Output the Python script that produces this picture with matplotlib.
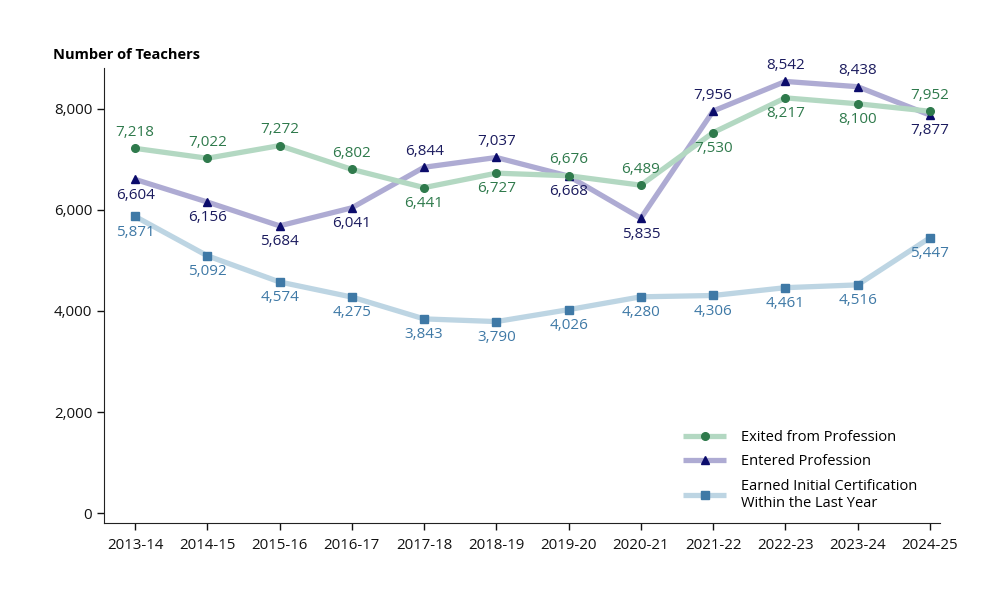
import matplotlib; matplotlib.use('Agg')
import matplotlib.pyplot as plt
from matplotlib.ticker import FuncFormatter

plt.rcParams['font.family'] = ['Open Sans', 'DejaVu Sans']

years = ['2013-14', '2014-15', '2015-16', '2016-17', '2017-18', '2018-19',
         '2019-20', '2020-21', '2021-22', '2022-23', '2023-24', '2024-25']
exited = [7218, 7022, 7272, 6802, 6441, 6727, 6676, 6489, 7530, 8217, 8100, 7952]
entered = [6604, 6156, 5684, 6041, 6844, 7037, 6668, 5835, 7956, 8542, 8438, 7877]
certified = [5871, 5092, 4574, 4275, 3843, 3790, 4026, 4280, 4306, 4461, 4516, 5447]

# label placement: 1 = above the point, -1 = below
exited_pos = [1, 1, 1, 1, -1, -1, 1, 1, -1, -1, -1, 1]
entered_pos = [-1, -1, -1, -1, 1, 1, -1, -1, 1, 1, 1, -1]
certified_pos = [-1] * 12

fig = plt.figure(figsize=(10, 6), dpi=100)
ax = fig.add_axes([0.104, 0.128, 0.836, 0.759])
x = list(range(len(years)))

series = [
    (certified, certified_pos, '#bdd5e3', '#3f79a6', '#3f79a6', 's',
     'Earned Initial Certification\nWithin the Last Year'),
    (entered, entered_pos, '#aeabd3', '#0b0b6b', '#1b1b5e', '^', 'Entered Profession'),
    (exited, exited_pos, '#b3d8c2', '#2f7a4c', '#2f7a4c', 'o', 'Exited from Profession'),
]
handles = []
for vals, pos, lc, mc, tc, mk, lab in series:
    h, = ax.plot(x, vals, color=lc, lw=3.8, marker=mk, ms=5.5,
                 markerfacecolor=mc, markeredgecolor=mc, label=lab,
                 solid_capstyle='butt')
    handles.append(h)
    for xi, v, p in zip(x, vals, pos):
        ax.annotate(f'{v:,}', (xi, v), xytext=(0, 6 * p), textcoords='offset points',
                    ha='center', va='bottom' if p > 0 else 'top',
                    fontsize=11, color=tc)

ax.set_xlim(-0.43, 11.14)
ax.set_ylim(-200, 8812)
ax.set_xticks(x)
ax.set_xticklabels(years)
ax.set_yticks([0, 2000, 4000, 6000, 8000])
ax.yaxis.set_major_formatter(FuncFormatter(lambda v, _: f'{int(v):,}'))
ax.tick_params(axis='both', labelsize=10.8, direction='out', length=5, width=1, colors='#111111')
ax.tick_params(axis='x', pad=6)
for s in ['top', 'right']:
    ax.spines[s].set_visible(False)
for s in ['left', 'bottom']:
    ax.spines[s].set_color('#222222')

fig.text(0.053, 0.908, 'Number of Teachers', fontsize=10.5, fontweight='bold', ha='left', va='center')

ax.legend(handles=handles[::-1], loc='lower right', bbox_to_anchor=(0.985, 0.005),
          frameon=False, fontsize=10.5, handlelength=3.0, handletextpad=1.0,
          labelspacing=0.62, borderaxespad=0.3)

fig.savefig('out.png', dpi=100, facecolor='white')
